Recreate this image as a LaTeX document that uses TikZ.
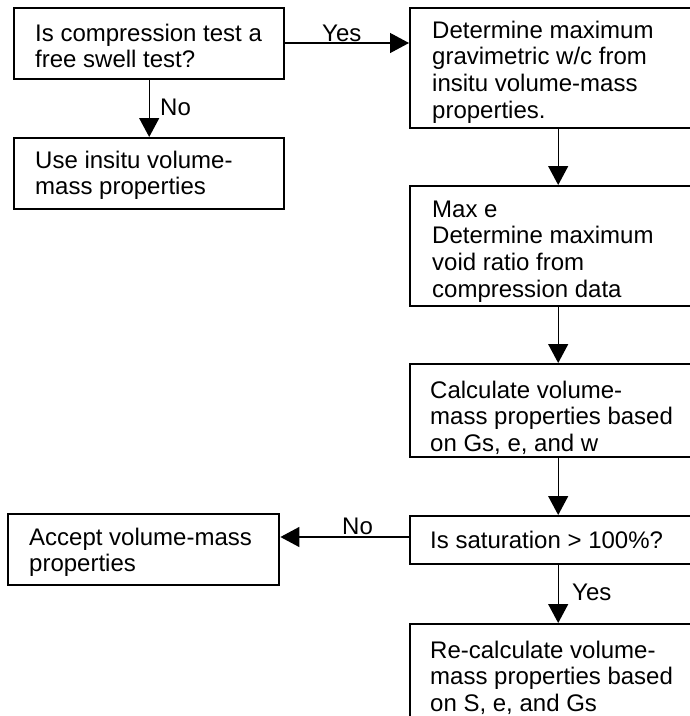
\documentclass[tikz,border=0pt]{standalone}
\usepackage{fontspec}
\setmainfont{Liberation Sans}
\usetikzlibrary{arrows.meta}
\newcommand\tlines[1]{\vtop{\baselineskip=26.8pt\lineskiplimit=-50pt\lineskip=0pt #1}}
\begin{document}
\begin{tikzpicture}[x=1pt,y=1pt,
  box/.style={draw, line width=2.4pt, rectangle, anchor=north west, inner sep=0pt},
  txt/.style={anchor=base west, inner sep=0pt, font=\fontsize{24}{26.8}\selectfont},
  conn/.style={line width=1.3pt, -{Triangle[width=20pt,length=19pt]}}]
\useasboundingbox (0,0) rectangle (690,-716);
\clip (0,0) rectangle (690,-716);
\fill[white] (0,0) rectangle (690,-716);
% boxes
\node[box, minimum width=270, minimum height=71] (A) at (13,-7) {};
\node[box, minimum width=270, minimum height=71] (B) at (13,-137) {};
\node[box, minimum width=296, minimum height=120] (C) at (409,-7) {};
\node[box, minimum width=296, minimum height=120] (D) at (409,-185) {};
\node[box, minimum width=296, minimum height=93] (E) at (409,-363) {};
\node[box, minimum width=296, minimum height=48] (F) at (409,-515) {};
\node[box, minimum width=296, minimum height=110] (G) at (409,-623) {};
\node[box, minimum width=271, minimum height=71] (H) at (7,-513) {};
% texts
\node[txt] (tA) at (35,-41) {\tlines{\hbox{Is compression test a}\hbox{free swell test?}}};
\node[txt] (tB) at (35,-168) {\tlines{\hbox{Use insitu volume-}\hbox{mass properties}}};
\node[txt] (tC) at (432,-38) {\tlines{\hbox{Determine maximum}\hbox{gravimetric w/c from}\hbox{insitu volume-mass}\hbox{properties.}}};
\node[txt] (tD) at (432,-217) {\tlines{\hbox{Max e}\hbox{Determine maximum}\hbox{void ratio from}\hbox{compression data}}};
\node[txt] (tE) at (430,-398) {\tlines{\hbox{Calculate volume-}\hbox{mass properties based}\hbox{on Gs, e, and w}}};
\node[txt] (tF) at (430,-548) {Is saturation > 100\%?};
\node[txt] (tG) at (430,-658) {\tlines{\hbox{Re-calculate volume-}\hbox{mass properties based}\hbox{on S, e, and Gs}}};
\node[txt] (tH) at (29,-545) {\tlines{\hbox{Accept volume-mass}\hbox{properties}}};
% connectors
\draw[conn] (A.east |- 0,-43) -- (C.west |- 0,-43);
\draw[conn] (A.south) -- (B.north);
\draw[conn] (C.south) -- (D.north);
\draw[conn] (D.south) -- (E.north);
\draw[conn] (E.south) -- (F.north);
\draw[conn] (F.south) -- (G.north);
\draw[conn] (F.west |- 0,-537) -- (H.east |- 0,-537);
% labels
\node[txt] (lYes1) at (322,-41.5) {Yes};
\node[txt] (lNo1) at (160,-115) {No};
\node[txt] (lNo2) at (342,-534) {No};
\node[txt] (lYes2) at (572,-600) {Yes};
\end{tikzpicture}
\end{document}
